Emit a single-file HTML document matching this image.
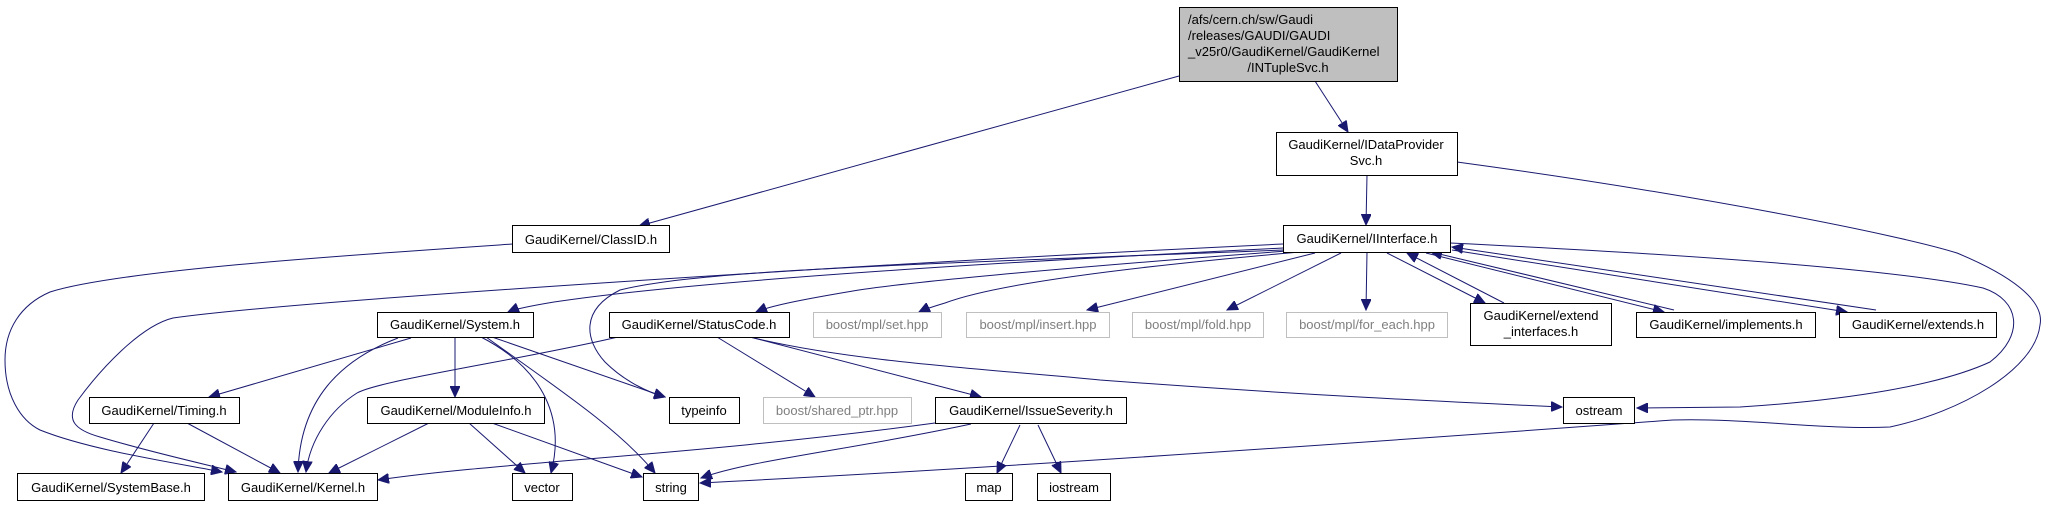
<!DOCTYPE html>
<html><head><meta charset="utf-8"><style>
html,body{margin:0;padding:0;background:#fff}
svg{display:block}
text{font-family:"Liberation Sans",Arial,sans-serif;font-size:13px;fill:#000}
text.g{fill:#7f7f7f}
</style></head><body>
<svg width="2045" height="507" viewBox="0 0 2045 507" xmlns="http://www.w3.org/2000/svg">
<defs>
<marker id="a" markerUnits="userSpaceOnUse" markerWidth="12" markerHeight="10" refX="11" refY="5" orient="auto">
<path d="M0,0 L11,5 L0,10 z" fill="#191970" stroke="#191970"/>
</marker>
</defs>
<g fill="none" stroke="#191970" stroke-width="1" marker-end="url(#a)">
<path d="M1179,76 L639,226"/>
<path d="M1315,81 L1348,132"/>
<path d="M1367,175 L1366,225"/>
<path d="M1457,162 C1700,195 1900,235 1957,253 C2010,275 2045,300 2040,325 C2035,370 1960,412 1890,427 C1820,430 1750,418 1673,420 C1400,440 1000,468 700,483"/>
<path d="M513,244 C350,255 120,270 50,292 C20,305 5,330 5,360 C5,395 20,420 40,430 C90,450 170,462 222,472"/>
<path d="M1283,244 C900,262 300,300 173,318 C140,326 100,370 78,400 C65,420 75,430 100,437 C150,452 200,463 236,472"/>
<path d="M1283,248 C1000,262 700,280 554,302 C530,306 515,309 508,312"/>
<path d="M1283,250 C900,265 700,270 620,290 C580,310 585,340 605,362 C625,382 650,393 665,397"/>
<path d="M1287,251 C1100,265 900,282 847,292 C800,300 770,306 756,312"/>
<path d="M1300,252 C1150,265 1000,282 945,303 C935,306 925,309 919,312"/>
<path d="M1315,253 L1087,310"/>
<path d="M1341,253 L1227,310"/>
<path d="M1367,252 L1366,310"/>
<path d="M1387,253 L1485,303"/>
<path d="M1504,303 L1407,253"/>
<path d="M1426,253 L1664,312"/>
<path d="M1674,310 L1431,252"/>
<path d="M1452,250 L1847,312"/>
<path d="M1876,310 L1452,247"/>
<path d="M1450,243 C1700,255 1900,270 1983,288 C2020,300 2025,335 1990,362 C1940,385 1850,400 1740,407 L1637,408"/>
<path d="M411,338 L209,397"/>
<path d="M398,338 C340,360 300,400 298,472"/>
<path d="M455,337 L455,397"/>
<path d="M481,337 C545,370 565,420 551,473"/>
<path d="M486,337 C560,390 620,430 655,473"/>
<path d="M492,337 L665,397"/>
<path d="M618,337 C520,360 380,380 357,393 C330,410 310,440 306,472"/>
<path d="M717,337 L815,397"/>
<path d="M750,337 L981,397"/>
<path d="M750,337 C850,362 1000,370 1100,380 C1300,395 1450,402 1562,407"/>
<path d="M154,423 L121,473"/>
<path d="M187,423 L280,473"/>
<path d="M429,423 L329,473"/>
<path d="M469,423 L525,473"/>
<path d="M492,423 L642,477"/>
<path d="M935,423 C700,455 500,462 378,480"/>
<path d="M971,424 C850,450 750,460 701,478"/>
<path d="M1020,425 L997,473"/>
<path d="M1038,425 L1061,473"/>
</g>
<g stroke="#000" stroke-width="1" fill="#fff">
<rect x="1179.5" y="7.5" width="218" height="74" fill="#bfbfbf"/>
<rect x="1276.5" y="132.5" width="181" height="43"/>
<rect x="1283.5" y="225.5" width="167" height="27"/>
<rect x="512.5" y="225.5" width="157" height="27"/>
<rect x="377.5" y="312.5" width="156" height="25"/>
<rect x="609.5" y="312.5" width="180" height="25"/>
<rect x="1470.5" y="303.5" width="141" height="42"/>
<rect x="1636.5" y="312.5" width="179" height="25"/>
<rect x="1839.5" y="312.5" width="157" height="25"/>
<rect x="89.5" y="397.5" width="150" height="26"/>
<rect x="367.5" y="397.5" width="177" height="26"/>
<rect x="669.5" y="397.5" width="70" height="26"/>
<rect x="935.5" y="397.5" width="191" height="26"/>
<rect x="1563.5" y="397.5" width="71" height="26"/>
<rect x="17.5" y="473.5" width="187" height="27"/>
<rect x="228.5" y="473.5" width="149" height="27"/>
<rect x="512.5" y="473.5" width="60" height="27"/>
<rect x="643.5" y="473.5" width="55" height="27"/>
<rect x="965.5" y="473.5" width="47" height="27"/>
<rect x="1037.5" y="473.5" width="73" height="27"/>
</g>
<g stroke="#bfbfbf" stroke-width="1" fill="#fff">
<rect x="813.5" y="312.5" width="128" height="25"/>
<rect x="966.5" y="312.5" width="143" height="25"/>
<rect x="1132.5" y="312.5" width="131" height="25"/>
<rect x="1286.5" y="312.5" width="161" height="25"/>
<rect x="763.5" y="397.5" width="148" height="26"/>
</g>
<g text-anchor="start">
<text x="1188" y="24">/afs/cern.ch/sw/Gaudi</text>
<text x="1188" y="40">/releases/GAUDI/GAUDI</text>
<text x="1188" y="56">_v25r0/GaudiKernel/GaudiKernel</text>
</g>
<g text-anchor="middle">
<text x="1288" y="72">/INTupleSvc.h</text>
<text x="1366" y="149">GaudiKernel/IDataProvider</text>
<text x="1366" y="165">Svc.h</text>
<text x="1367" y="243">GaudiKernel/IInterface.h</text>
<text x="591" y="244">GaudiKernel/ClassID.h</text>
<text x="455" y="329">GaudiKernel/System.h</text>
<text x="699" y="329">GaudiKernel/StatusCode.h</text>
<text x="1541" y="320">GaudiKernel/extend</text>
<text x="1541" y="336">_interfaces.h</text>
<text x="1726" y="329">GaudiKernel/implements.h</text>
<text x="1918" y="329">GaudiKernel/extends.h</text>
<text x="164" y="415">GaudiKernel/Timing.h</text>
<text x="456" y="415">GaudiKernel/ModuleInfo.h</text>
<text x="704" y="415">typeinfo</text>
<text x="1031" y="415">GaudiKernel/IssueSeverity.h</text>
<text x="1599" y="415">ostream</text>
<text x="111" y="492">GaudiKernel/SystemBase.h</text>
<text x="303" y="492">GaudiKernel/Kernel.h</text>
<text x="542" y="492">vector</text>
<text x="671" y="492">string</text>
<text x="989" y="492">map</text>
<text x="1074" y="492">iostream</text>
<text class="g" x="877" y="329">boost/mpl/set.hpp</text>
<text class="g" x="1038" y="329">boost/mpl/insert.hpp</text>
<text class="g" x="1198" y="329">boost/mpl/fold.hpp</text>
<text class="g" x="1367" y="329">boost/mpl/for_each.hpp</text>
<text class="g" x="837" y="415">boost/shared_ptr.hpp</text>
</g>
</svg>
</body></html>
